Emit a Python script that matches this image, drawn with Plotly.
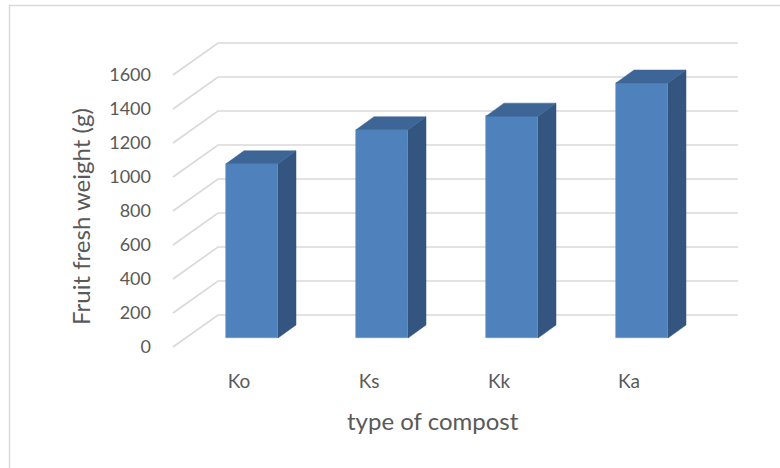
import plotly.graph_objects as go

# ---- data ----
categories = ["Ko", "Ks", "Kk", "Ka"]
weights = [1025, 1225, 1305, 1500]
y_ticks = [0, 200, 400, 600, 800, 1000, 1200, 1400, 1600]
x_title = "type of compost"
y_title = "Fruit fresh weight (g)"

# ---- styling / pseudo-3D geometry (pixels converted to data units) ----
W, H = 780, 468
L, R, T, B = 160, 30, 30, 108
px_per_cat = 130.0
px_per_unit = 0.17
x0_px = 252.0          # pixel of category index 0 (bar front centre)
y0_px = 338.0          # pixel of value 0 (bar base)
plot_w = W - L - R
plot_h = H - T - B
xr = [(L - x0_px) / px_per_cat, (W - R - x0_px) / px_per_cat]
yr = [(y0_px - (H - B)) / px_per_unit, (y0_px - T) / px_per_unit]

bar_w = 0.4
dxu = 18 / px_per_cat
dyu = 13 / px_per_unit
front_dx = (173 - x0_px) / px_per_cat
front_dy = (338 - 347) / px_per_unit
back_dx = (218 - x0_px) / px_per_cat
back_dy = (338 - 315) / px_per_unit
right_x = (738 - x0_px) / px_per_cat
label_dx = -13 / px_per_cat

c_front = "#4F81BD"
c_top = "#3D6596"
c_side = "#33557F"
grid_c = "#D9D9D9"
txt_c = "#595959"
font_fam = "Lato, 'Open Sans', sans-serif"


def px_to_paper_x(px):
    return (px - L) / plot_w


def px_to_paper_y(py):
    return ((H - B) - py) / plot_h


xs = list(range(len(categories)))

fig = go.Figure()
fig.add_trace(go.Bar(x=xs, y=weights, width=bar_w,
                     marker=dict(color=c_front, line=dict(width=0.6, color="#6C95C8")),
                     hoverinfo="y", showlegend=False))

for x, v in zip(xs, weights):
    xl, xrt = x - bar_w / 2, x + bar_w / 2
    # side face
    fig.add_trace(go.Scatter(
        x=[xrt, xrt + dxu, xrt + dxu, xrt, xrt],
        y=[0, dyu, v + dyu, v, 0],
        fill="toself", fillcolor=c_side, mode="lines",
        line=dict(width=0.5, color=c_side), hoverinfo="skip", showlegend=False))
    # top face
    fig.add_trace(go.Scatter(
        x=[xl, xl + dxu, xrt + dxu, xrt, xl],
        y=[v, v + dyu, v + dyu, v, v],
        fill="toself", fillcolor=c_top, mode="lines",
        line=dict(width=0.5, color=c_top), hoverinfo="skip", showlegend=False))

shapes = []
for t in y_ticks:
    shapes.append(dict(type="path", xref="x", yref="y", layer="below",
                       path=f"M {front_dx},{t + front_dy} L {back_dx},{t + back_dy} L {right_x},{t + back_dy}",
                       line=dict(color=grid_c, width=1.6)))
# chart border
shapes.append(dict(type="rect", xref="paper", yref="paper",
                   x0=px_to_paper_x(9.5), x1=px_to_paper_x(W + 20),
                   y0=px_to_paper_y(H + 20), y1=px_to_paper_y(5.5),
                   line=dict(color=grid_c, width=1.5), layer="below"))

annotations = [
    dict(text=x_title, xref="paper", yref="paper", x=px_to_paper_x(433), y=px_to_paper_y(420),
         xanchor="center", yanchor="middle", showarrow=False,
         font=dict(size=24, color=txt_c, family=font_fam)),
    dict(text=y_title, xref="paper", yref="paper", x=px_to_paper_x(80), y=px_to_paper_y(217),
         xanchor="center", yanchor="middle", showarrow=False, textangle=-90,
         font=dict(size=24, color=txt_c, family=font_fam)),
]

fig.update_layout(
    width=W, height=H,
    margin=dict(l=L, r=R, t=T, b=B, autoexpand=False),
    paper_bgcolor="white", plot_bgcolor="white",
    font=dict(family=font_fam, color=txt_c, size=18),
    shapes=shapes,
    annotations=annotations,
    xaxis=dict(range=xr, showgrid=False, zeroline=False, showline=False,
               tickmode="array", tickvals=[x + label_dx for x in xs], ticktext=categories,
               ticks="", ticklabelstandoff=8, tickfont=dict(size=19, color=txt_c)),
    yaxis=dict(range=yr, showgrid=False, zeroline=False, showline=False,
               tickmode="array", tickvals=[t + front_dy for t in y_ticks],
               ticktext=[str(t) for t in y_ticks],
               ticks="", ticklabelstandoff=8, tickfont=dict(size=18, color=txt_c)),
    bargap=0,
)

fig.write_html("out.html")
